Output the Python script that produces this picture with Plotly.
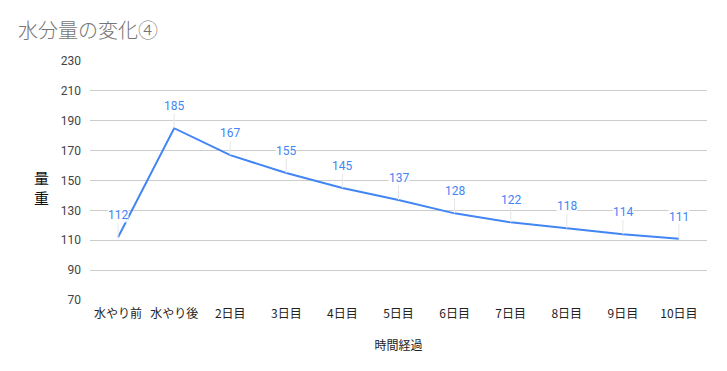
import plotly.graph_objects as go

categories = ["水やり前", "水やり後", "2日目", "3日目", "4日目", "5日目", "6日目", "7日目", "8日目", "9日目", "10日目"]
values = [112, 185, 167, 155, 145, 137, 128, 122, 118, 114, 111]
y_ticks = [70, 90, 110, 130, 150, 170, 190, 210, 230]

FONT = "Roboto, 'Noto Sans CJK JP', sans-serif"
JP = "'Noto Sans CJK JP', Roboto, sans-serif"
BLUE = "#4285F4"

W, H = 719, 363

fig = go.Figure()
fig.add_trace(go.Scatter(
    x=categories, y=values, mode="lines",
    line=dict(color=BLUE, width=2),
    hoverinfo="x+y", showlegend=False,
))

for c, v in zip(categories, values):
    fig.add_annotation(
        x=c, y=v, text=str(v), showarrow=True,
        ax=0, ay=-22, arrowhead=0, arrowwidth=1, arrowcolor="#e6e6e6",
        font=dict(family=FONT, size=12, color=BLUE),
        bgcolor="rgba(255,255,255,0.85)", borderpad=0,
    )

fig.update_layout(
    width=W, height=H,
    margin=dict(l=82, r=20, t=53, b=71),
    paper_bgcolor="white", plot_bgcolor="white",
    font=dict(family=FONT, size=12, color="#444444"),
    title=dict(text="水分量の変化④", x=10 / W, xref="container", xanchor="left",
               y=1 - 23 / H, yref="container", yanchor="middle",
               font=dict(family=JP, size=20, color="#757575", weight=300)),
    xaxis=dict(
        type="category", showgrid=False, zeroline=False,
        showline=False, ticks="", ticklabelstandoff=5,
        tickfont=dict(family=JP, size=12, color="#222222"),
        title=dict(text="時間経過", font=dict(family=JP, size=12, color="#222222"), standoff=21),
        range=[-0.5, len(categories) - 0.5],
    ),
    yaxis=dict(
        range=[70, 230], tickvals=y_ticks, ticktext=[str(t) for t in y_ticks],
        showgrid=True, gridcolor="#cccccc", gridwidth=1, zeroline=False,
        showline=False, ticks="", ticklabelstandoff=8,
        tickfont=dict(family=FONT, size=12, color="#444444"),
        title=None,
    ),
)

fig.add_annotation(
    xref="paper", yref="paper", x=-0.078, y=0.47, xanchor="center", yanchor="middle",
    text="量<br>重", showarrow=False,
    font=dict(family=JP, size=15, color="#111111"),
)

fig.write_html("out.html")
